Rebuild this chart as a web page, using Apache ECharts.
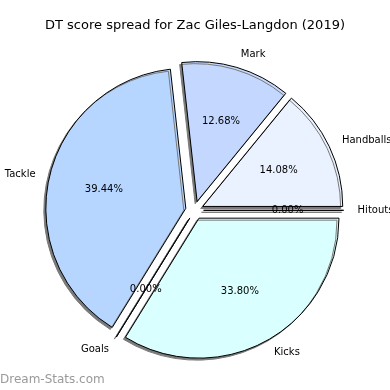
<!DOCTYPE html>
<html>
<head>
<meta charset="utf-8">
<script src="https://cdn.jsdelivr.net/npm/echarts@6/dist/echarts.min.js"></script>
<style>
html,body{margin:0;padding:0;background:#fff;}
#chart{width:390px;height:390px;}
</style>
</head>
<body>
<div id="chart"></div>
<script>
// Data (DT points by category), matplotlib order: counter-clockwise from 0°
const categories = ['Handballs', 'Mark', 'Tackle', 'Goals', 'Kicks', 'Hitouts'];
const values = [10, 9, 28, 0, 24, 0];
const colors = ['#eaf2ff', '#c4d8ff', '#b6d6ff', '#c8e0ff', '#d9ffff', '#e0ecff'];
const titleText = 'DT score spread for Zac Giles-Langdon (2019)';
const watermark = 'Dream-Stats.com';

const FONT = 'DejaVu Sans';
const total = values.reduce((a, b) => a + b, 0);
const R = 140;
const CENTER = [194.6, 210.3];
const OFFSET = 9;

const mainData = categories.map((c, i) => ({
  name: c,
  value: values[i],
  selected: true,
  itemStyle: { color: colors[i] }
}));
const pctData = categories.map((c, i) => ({
  name: c,
  value: values[i],
  selected: true
}));

const chart = echarts.init(document.getElementById('chart'), null, { renderer: 'canvas' });
chart.setOption({
  animation: false,
  backgroundColor: '#ffffff',
  title: [
    {
      text: titleText,
      left: 'center',
      top: 19,
      padding: 0,
      textStyle: { fontFamily: FONT, fontSize: 13, fontWeight: 'normal', color: '#000' }
    },
    {
      text: watermark,
      left: 0,
      top: 374,
      padding: 0,
      textStyle: { fontFamily: FONT, fontSize: 12, fontWeight: 'normal', color: '#9a9a9a' }
    }
  ],
  series: [
    {
      type: 'pie',
      center: CENTER,
      radius: [0, R],
      startAngle: 0,
      clockwise: false,
      selectedMode: 'multiple',
      selectedOffset: OFFSET,
      avoidLabelOverlap: false,
      silent: true,
      minShowLabelAngle: 0,
      itemStyle: {
        borderColor: '#000',
        borderWidth: 1,
        shadowColor: '#7a7a7a',
        shadowBlur: 0,
        shadowOffsetX: -2,
        shadowOffsetY: 2
      },
      select: { itemStyle: { borderColor: '#000', borderWidth: 1 } },
      emphasis: { disabled: true, scale: false },
      label: {
        show: true,
        position: 'outside',
        formatter: '{b}',
        fontFamily: FONT,
        fontSize: 10,
        color: '#000',
        padding: [3, 0, 0, 0],
        distanceToLabelLine: 0
      },
      labelLine: { show: false, length: 14, length2: 0 },
      data: mainData
    },
    {
      type: 'pie',
      center: CENTER,
      radius: [22, R],
      startAngle: 0,
      clockwise: false,
      selectedMode: 'multiple',
      selectedOffset: OFFSET,
      avoidLabelOverlap: false,
      silent: true,
      minShowLabelAngle: 0,
      itemStyle: { color: 'rgba(0,0,0,0)', borderWidth: 0 },
      select: { itemStyle: { color: 'rgba(0,0,0,0)', borderWidth: 0 } },
      emphasis: { disabled: true, scale: false },
      label: {
        show: true,
        position: 'inside',
        formatter: p => (p.value / total * 100).toFixed(2) + '%',
        fontFamily: FONT,
        fontSize: 10,
        color: '#000',
        padding: [3, 0, 0, 0]
      },
      labelLine: { show: false },
      data: pctData
    }
  ]
});
</script>
</body>
</html>
